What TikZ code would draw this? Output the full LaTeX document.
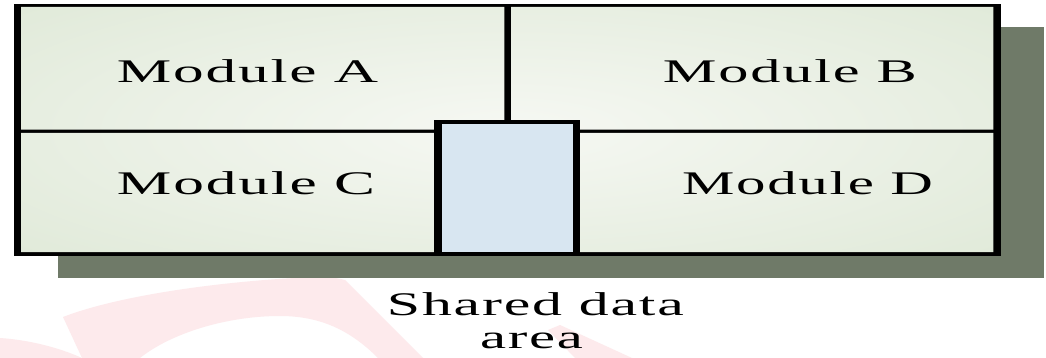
\documentclass[tikz,border=0pt]{standalone}
\usepackage{fontspec}
\setmainfont{Liberation Serif}
\usepackage{graphicx}

\definecolor{shadowgreen}{RGB}{111,122,104}
\definecolor{cellouter}{RGB}{211,225,201}
\definecolor{cellinner}{RGB}{246,248,243}
\definecolor{sharedblue}{RGB}{216,230,241}
\definecolor{swooshpink}{RGB}{253,234,236}

% wide, loosely tracked lettering stretched to a given width
\newcommand\widetext[2]{\resizebox{#1}{\height}{\addfontfeature{LetterSpace=3}#2}}

\begin{document}
\begin{tikzpicture}[x=1pt,y=-1pt,
  lbl/.style={inner sep=0pt, anchor=base, font=\fontsize{33}{34}\selectfont},
  framefill/.style={fill=black},
  swoosh/.style={fill=swooshpink}]
\useasboundingbox[fill=white] (0,0) rectangle (1046,358);

% faint background swooshes
\fill[swoosh] (63,317) -- (82,358) -- (140,358)
  .. controls (170,334) and (225,316) .. (280,316)
  .. controls (320,316) and (350,330) .. (378,358)
  -- (423,358) -- (345,280)
  .. controls (330,276) and (310,276) .. (295,278)
  .. controls (220,282) and (120,295) .. (63,317) -- cycle;
\fill[swoosh] (0,338) .. controls (30,340) and (60,348) .. (82,358) -- (0,358) -- cycle;
\fill[swoosh] (548,330) -- (560,325) -- (632,358) -- (575,358) -- cycle;

% drop shadow
\fill[shadowgreen] (58,27) rectangle (1044,278);

% outer frame and dividers
\fill[framefill] (14,4) rectangle (1001,256);
\begin{scope}
  \clip (21,7) rectangle (504.3,129.7)
        (511,7) rectangle (993.3,129.7)
        (21,133) rectangle (434,252)
        (580,133) rectangle (993.3,252);
  \shade[inner color=cellinner, outer color=cellouter]
    (507,130) ellipse [x radius=1100, y radius=300];
\end{scope}

% shared data block
\fill[framefill] (434,120) rectangle (580,256);
\fill[sharedblue] (441.7,124.3) rectangle (572.7,252);

% labels
\node[lbl] (modA) at (247.5,83) {\widetext{261pt}{Module A}};
\node[lbl] (modB) at (790,83) {\widetext{254pt}{Module B}};
\node[lbl] (modC) at (246,195) {\widetext{258pt}{Module C}};
\node[lbl] (modD) at (807.5,195) {\widetext{251pt}{Module D}};
\node[lbl] (sharedA) at (535.5,315) {\widetext{297pt}{Shared data}};
\node[lbl] (sharedB) at (531.5,348) {\widetext{103pt}{area}};
\end{tikzpicture}
\end{document}
